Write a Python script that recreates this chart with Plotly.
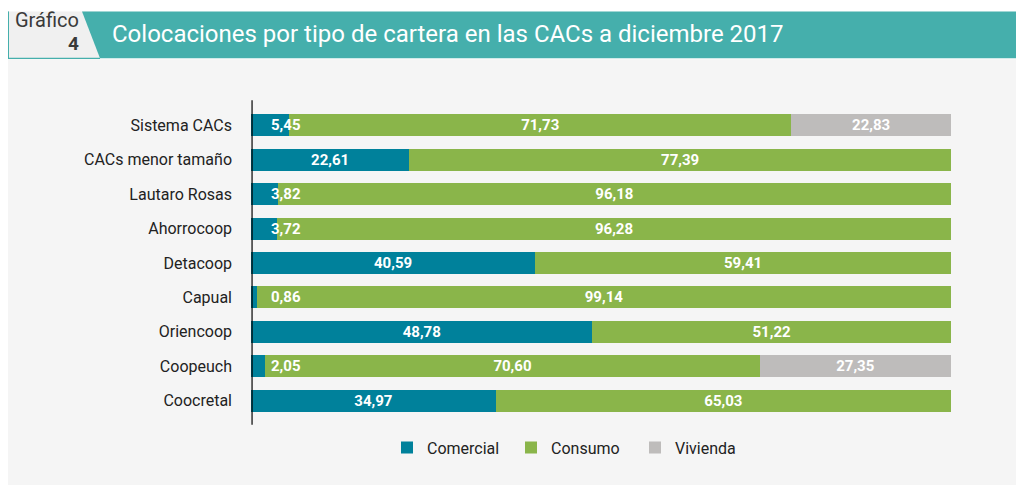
import plotly.graph_objects as go

categories = ["Sistema CACs", "CACs menor tamaño", "Lautaro Rosas", "Ahorrocoop",
              "Detacoop", "Capual", "Oriencoop", "Coopeuch", "Coocretal"]
comercial = [5.45, 22.61, 3.82, 3.72, 40.59, 0.86, 48.78, 2.05, 34.97]
consumo = [71.73, 77.39, 96.18, 96.28, 59.41, 99.14, 51.22, 70.60, 65.03]
vivienda = [22.83, 0, 0, 0, 0, 0, 0, 27.35, 0]
series_names = ["Comercial", "Consumo", "Vivienda"]
title_text = "Colocaciones por tipo de cartera en las CACs a diciembre 2017"

# page body margin offset (8px) -> figure is 1016x477
OFF = 8
W, H = 1024 - OFF, 485 - OFF
L, R, T, B = 251, 951, 107.75, 418.25   # plot area in screen pixels

def px2x(px):
    return (px - L) / (R - L)

def px2y(py):
    return (B - py) / (B - T)

def fmt(v):
    return f"{v:.2f}".replace(".", ",")

C_COM = "#00819b"
C_CON = "#8ab54a"
C_VIV = "#bebcbb"
TEAL = "#45afac"
FONT = "Roboto"
LBL = dict(color="white", size=15, family=FONT, weight="bold")

fig = go.Figure()
small = 8
fig.add_trace(go.Bar(
    y=categories, x=comercial, orientation="h", name=series_names[0],
    marker=dict(color=C_COM, line=dict(width=0)),
    text=[fmt(v) if v >= small else "" for v in comercial],
    textposition="inside", insidetextanchor="middle", textfont=LBL, constraintext="none"))
fig.add_trace(go.Bar(
    y=categories, x=consumo, orientation="h", name=series_names[1],
    marker=dict(color=C_CON, line=dict(width=0)),
    text=[fmt(v) for v in consumo],
    textposition="inside", insidetextanchor="middle", textfont=LBL, constraintext="none"))
fig.add_trace(go.Bar(
    y=categories, x=vivienda, orientation="h", name=series_names[2],
    marker=dict(color=C_VIV, line=dict(width=0)),
    text=[fmt(v) if v > 0 else "" for v in vivienda],
    textposition="inside", insidetextanchor="middle", textfont=LBL, constraintext="none"))

annotations = []
for cat, v in zip(categories, comercial):
    if v < small:
        annotations.append(dict(x=5, y=cat, xref="x", yref="y", text=fmt(v),
                                showarrow=False, font=LBL))

# header
annotations.append(dict(x=px2x(110), y=px2y(34), xref="paper", yref="paper",
                        text=title_text, showarrow=False, xanchor="left", yanchor="middle",
                        font=dict(color="white", size=24, family=FONT)))
annotations.append(dict(x=px2x(81), y=px2y(20), xref="paper", yref="paper",
                        text="Gráfico", showarrow=False, xanchor="right", yanchor="middle",
                        font=dict(color="#3a3a3a", size=20, family=FONT)))
annotations.append(dict(x=px2x(81), y=px2y(43), xref="paper", yref="paper",
                        text="<b>4</b>", showarrow=False, xanchor="right", yanchor="middle",
                        font=dict(color="#3a3a3a", size=19, family=FONT)))

shapes = [
    # gray panel
    dict(type="rect", xref="paper", yref="paper", x0=px2x(7), x1=px2x(1030),
         y0=px2y(490), y1=px2y(59), fillcolor="#f5f5f5", line=dict(width=0), layer="below"),
    # grafico box
    dict(type="rect", xref="paper", yref="paper", x0=px2x(7), x1=px2x(100),
         y0=px2y(58), y1=px2y(11), fillcolor="#f0f0f0", line=dict(width=0), layer="below"),
    # teal band (slanted start)
    dict(type="path", xref="paper", yref="paper",
         path=f"M {px2x(82)},{px2y(11)} L {px2x(1030)},{px2y(11)} L {px2x(1030)},{px2y(58)} L {px2x(100)},{px2y(58)} Z",
         fillcolor=TEAL, line=dict(width=0), layer="below"),
    # thin teal border on box
    dict(type="line", xref="paper", yref="paper", x0=px2x(8.5), x1=px2x(8.5),
         y0=px2y(58), y1=px2y(11), line=dict(color=TEAL, width=1)),
    dict(type="line", xref="paper", yref="paper", x0=px2x(8), x1=px2x(100),
         y0=px2y(58), y1=px2y(58), line=dict(color=TEAL, width=1.2)),
    # axis line
    dict(type="line", xref="x", yref="paper", x0=0.15, x1=0.15,
         y0=px2y(425), y1=px2y(100), line=dict(color="black", width=1.2), layer="above"),
]

fig.update_layout(
    width=W, height=H, barmode="stack", bargap=0.36,
    paper_bgcolor="white", plot_bgcolor="rgba(0,0,0,0)",
    margin=dict(l=L - OFF, r=W - (R - OFF), t=T - OFF, b=H - (B - OFF), pad=0),
    font=dict(family=FONT, color="#222222", size=14),
    xaxis=dict(range=[0, 100], visible=False, fixedrange=True),
    yaxis=dict(categoryorder="array", categoryarray=categories, autorange="reversed",
               showgrid=False, zeroline=False, showline=False, ticks="",
               ticklabelstandoff=18, tickfont=dict(size=16, color="#222222", family=FONT)),
    showlegend=True,
    legend=dict(orientation="h", traceorder="normal", x=px2x(573), xanchor="center",
                y=px2y(448), yanchor="middle",
                font=dict(size=16, color="#222222", family=FONT), bgcolor="rgba(0,0,0,0)",
                entrywidth=79, entrywidthmode="pixels", itemsizing="constant"),
    annotations=annotations, shapes=shapes,
)

fig.write_html("out.html", config={"displayModeBar": False})
